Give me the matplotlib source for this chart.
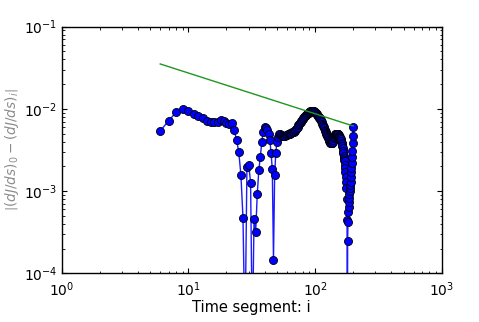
#!/usr/bin/env python3

import numpy as np
import matplotlib
matplotlib.use( 'Agg' )
import matplotlib.pyplot as plt

# time segment index and |(dJ/ds)_0 - (dJ/ds)_i|
seg = np.arange( 6, 201 )

diff = np.array( [
    0.0054, 0.0072, 0.0091, 0.0100,
    0.0095, 0.0086, 0.0083, 0.0077, 0.0072, 0.0070, 0.0069, 0.0070, 0.0074, 0.0072,
    0.0068, 0.0065, 0.0067, 0.0055, 0.0042, 0.0030, 0.00156, 0.00047, 0.000015, 0.00198,
    0.00205, 0.00127, 0.000015, 0.00046, 0.00032, 0.00092, 0.0018, 0.0026, 0.0040, 0.0053,
    0.0061, 0.0058, 0.0055, 0.0050, 0.0042, 0.0029, 0.00184, 0.000146, 0.00157, 0.0029,
    0.0040, 0.0046, 0.0050, 0.0049, 0.0048, 0.0047, 0.0047, 0.0047, 0.0047, 0.0048,
    0.0048, 0.0049, 0.0050, 0.0050, 0.0051, 0.0051, 0.0052, 0.0052, 0.0053, 0.0054,
    0.0055, 0.0057, 0.0059, 0.0061, 0.0063, 0.0065, 0.0067, 0.0069, 0.0071, 0.0073,
    0.0075, 0.0077, 0.0079, 0.0081, 0.0082, 0.0084, 0.0086, 0.0087, 0.0089, 0.0090,
    0.0091, 0.0092, 0.0093, 0.0093, 0.0094, 0.0094, 0.0094, 0.0093, 0.0093, 0.0092,
    0.0091, 0.0090, 0.0088, 0.0087, 0.0085, 0.0083, 0.0081, 0.0080, 0.0078, 0.0077,
    0.0075, 0.0073, 0.0071, 0.0069, 0.0066, 0.0064, 0.0062, 0.0060, 0.0058, 0.0056,
    0.0054, 0.0053, 0.0051, 0.0050, 0.0048, 0.0047, 0.0045, 0.0044, 0.0043, 0.0042,
    0.0041, 0.0040, 0.0039, 0.0038, 0.0038, 0.0038, 0.0038, 0.0039, 0.0040, 0.0042,
    0.0044, 0.0045, 0.0046, 0.0047, 0.0048, 0.0049, 0.0049, 0.0050, 0.0050, 0.0050,
    0.0050, 0.0050, 0.0049, 0.0049, 0.0048, 0.0047, 0.0046, 0.0045, 0.0044, 0.0042,
    0.0043, 0.0041, 0.0039, 0.0037, 0.0035, 0.0033, 0.0031, 0.0029, 0.0027, 0.0025,
    0.0024, 0.0023, 0.0021, 0.0019, 0.0017, 0.0015, 0.0013, 0.0011, 0.00080, 0.00045,
    0.000010, 0.00025, 0.00042, 0.00055, 0.00064, 0.00073, 0.00082, 0.00092, 0.0010,
    0.0011, 0.0012, 0.0013, 0.0015, 0.0017, 0.0019, 0.0022, 0.0026, 0.0031, 0.0038,
    0.0047, 0.0060 ] )

# reference slope line (end points)
ref_seg  = [ 6, 200 ]
ref_diff = [ 0.0352, 0.0062 ]

fig = plt.figure( figsize = ( 4.79, 3.22 ), dpi = 100 )
ax  = fig.add_axes( [ 0.1288, 0.1512, 0.7933, 0.7659 ] )

ax.plot( seg, diff, '-', color = '#1a1aff', lw = 1.0, marker = 'o', ms = 5.8, \
         mfc = 'b', mec = 'k', mew = 0.6 )
ax.plot( ref_seg, ref_diff, '-', color = '#1f961f', lw = 1.0 )

ax.set_xscale( 'log' )
ax.set_yscale( 'log' )
ax.set_xlim( 1, 1e3 )
ax.set_ylim( 1e-4, 1e-1 )

ax.tick_params( which = 'both', direction = 'in', top = True, right = True, \
                labelsize = 10 )
ax.tick_params( which = 'major', length = 3.5, width = 0.8 )
ax.tick_params( which = 'minor', length = 1.8, width = 0.6 )
ax.tick_params( axis = 'x', which = 'major', pad = 5 )
ax.tick_params( axis = 'y', which = 'major', pad = 3 )
for s in ax.spines.values():
    s.set_linewidth( 1.0 )

ax.set_xlabel( 'Time segment: i', fontsize = 10.5, labelpad = 1 )
ax.set_ylabel( r'$\left|(dJ/ds)_0-(dJ/ds)_i\right|$', fontsize = 9.8, \
               color = '#8c8c8c' )
ax.yaxis.set_label_coords( -0.108, 0.5 )

plt.savefig( 'out.png', dpi = 100 )
plt.close()
